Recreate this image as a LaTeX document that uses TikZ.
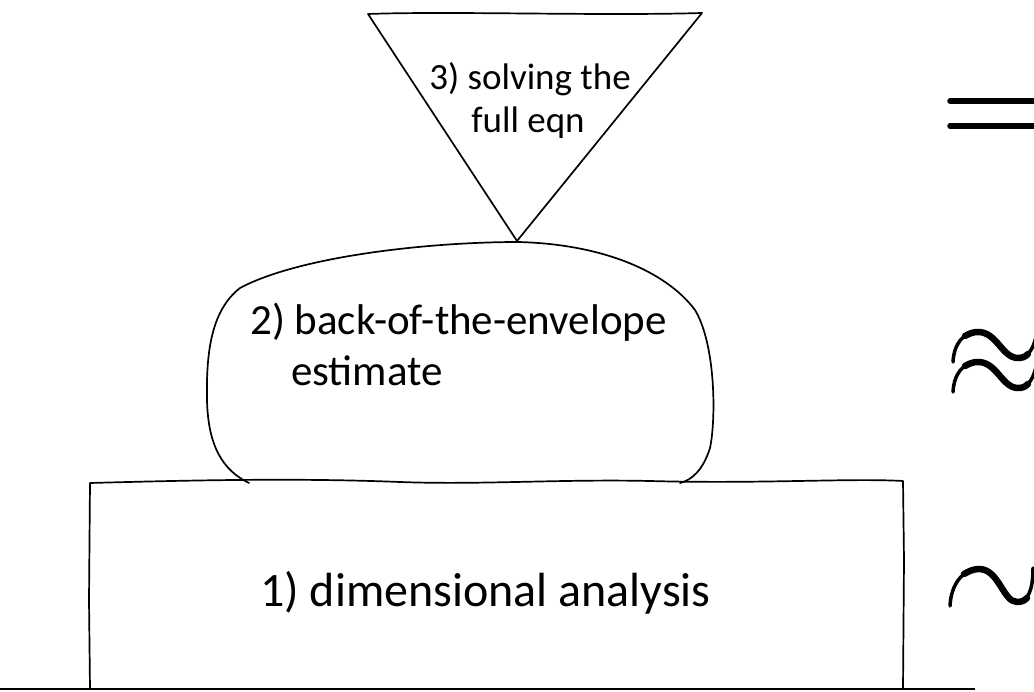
\documentclass[tikz,border=0pt]{standalone}
\usepackage{fontspec}
\setmainfont{Carlito}
\begin{document}
\begin{tikzpicture}[x=1pt,y=-1pt,line join=round,line cap=round,
  sketch/.style={draw=black,line width=1.7pt},
  ground/.style={draw=black,line width=2.6pt,line cap=butt},
  sym/.style={draw=black,line width=5.5pt,line cap=round},
  wave/.style={draw=black,line width=3.5pt,line cap=round},
  wavemid/.style={draw=black,line width=6.5pt,line cap=round},
  bigtext/.style={inner sep=0pt,font=\fontsize{48}{58}\selectfont},
  midtext/.style={inner sep=0pt,font=\fontsize{43}{52}\selectfont},
  smalltext/.style={inner sep=0pt,font=\fontsize{37}{44}\selectfont}]
\useasboundingbox (0,0) rectangle (1034,692);
\clip (0,0) rectangle (1034,692);
% ground line
\draw[ground] (0,689) -- (975,689);
% 1) base rectangle
\draw[sketch] (90,689) -- (89,600) -- (90,483) .. controls (200,480) and (300,478) .. (400,482)
  .. controls (480,485) and (560,479) .. (650,481) .. controls (760,484) and (850,478) .. (903,481)
  -- (904,560) -- (903,689);
% 2) blob
\draw[sketch] (249,483) .. controls (222,470) and (208,445) .. (207,400)
  .. controls (206,350) and (212,310) .. (240,288)
  .. controls (300,256) and (430,242) .. (518,242)
  .. controls (600,244) and (665,270) .. (695,310)
  .. controls (716,345) and (716,420) .. (710,448)
  .. controls (703,470) and (692,480) .. (680,483);
% 3) triangle
\draw[sketch] (368,14) .. controls (450,11) and (600,16) .. (702,13) -- (517,241) -- cycle;
% labels
\node[bigtext,anchor=base west] (dim) at (260,606) {1) dimensional analysis};
\node[midtext,anchor=base west] (bote1) at (250,335) {2) back-of-the-envelope};
\node[midtext,anchor=base west] (bote2) at (291,386) {estimate};
\node[smalltext,anchor=base] (full1) at (530,90) {3) solving the};
\node[smalltext,anchor=base] (full2) at (528,133) {full eqn};
% equals
\draw[sym] (950,101) -- (1040,101);
\draw[sym] (950,126) -- (1040,126);
% approx
\foreach \dy in {0,30} {
  \begin{scope}[yshift=-\dy pt]
  \draw[wave] (953,362) .. controls (954,344) and (963,332) .. (978,332)
    .. controls (997,332) and (1002,358) .. (1018,358) .. controls (1028,358) and (1035,348) .. (1037,330);
  \draw[wavemid] (965,336) .. controls (970,333) and (974,332) .. (978,332)
    .. controls (997,332) and (1002,358) .. (1018,358) .. controls (1022,358) and (1025,357) .. (1028,354);
  \end{scope}
}
% tilde
\draw[wave] (950,606) .. controls (951,584) and (963,569) .. (979,569)
  .. controls (999,569) and (1003,602) .. (1017,602) .. controls (1028,602) and (1033,590) .. (1033,568);
\draw[wavemid] (964,574) .. controls (969,571) and (974,569) .. (979,569)
  .. controls (999,569) and (1003,602) .. (1017,602) .. controls (1021,602) and (1024,601) .. (1027,598);
\end{tikzpicture}
\end{document}
